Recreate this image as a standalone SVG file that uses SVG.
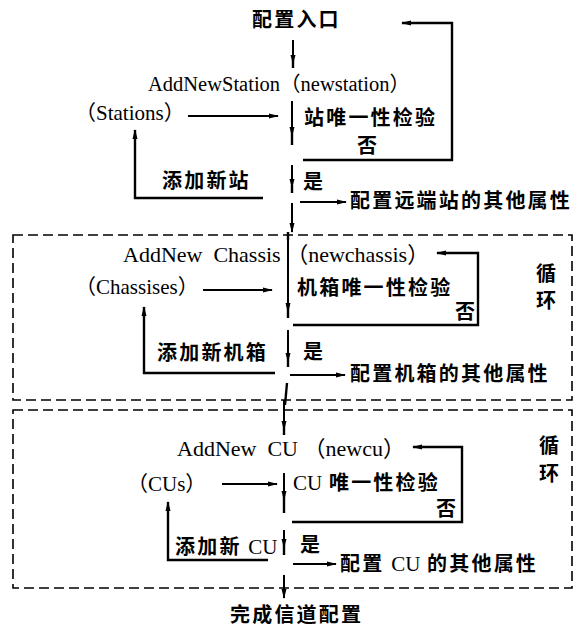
<svg xmlns="http://www.w3.org/2000/svg" width="586" height="632" viewBox="0 0 586 632">
<style>
.cn{font-family:"Noto Sans CJK SC","Noto Sans CJK TC",sans-serif;font-size:20px;font-weight:bold;letter-spacing:2.2px;fill:#000}
.en{font-family:"Liberation Serif","Noto Sans CJK SC",serif;font-size:21px;font-weight:normal;letter-spacing:0;fill:#000}
.ln{fill:none;stroke:#000;stroke-width:2.4}
.ar{fill:none;stroke:#000;stroke-width:2;marker-end:url(#ah)}
.dash{fill:none;stroke:#000;stroke-width:1.6;stroke-dasharray:10 5}
</style>
<defs>
<marker id="ah" markerUnits="userSpaceOnUse" markerWidth="10" markerHeight="6" refX="9" refY="3" orient="auto">
<path d="M0,0.5 L10,3 L0,5.5 z" fill="#000"/>
</marker>
</defs>
<rect width="586" height="632" fill="#fff"/>

<g id="loop-box-chassis"><rect class="dash" x="13" y="235" width="559" height="165"/></g>
<g id="loop-box-cu"><rect class="dash" x="13" y="410" width="559" height="178"/></g>

<g id="connectors">
<!-- top section -->
<line class="ar" x1="293" y1="40" x2="293" y2="64"/>
<line class="ln" x1="293" y1="60" x2="293" y2="68"/>
<line class="ar" x1="188" y1="116" x2="278" y2="116"/>
<line class="ar" x1="292" y1="101" x2="292" y2="136"/>
<line class="ln" x1="292" y1="130" x2="292" y2="145"/>
<line class="ar" x1="292" y1="165" x2="292" y2="188"/>
<line class="ln" x1="292" y1="185" x2="292" y2="193"/>
<line class="ar" x1="292" y1="203" x2="292" y2="232"/>
<polyline class="ln" points="303,160 452,160 452,23 402,23" style="marker-end:url(#ah)"/>
<polyline class="ln" points="263,198 135,198 135,130" style="marker-end:url(#ah)"/>
<line class="ar" x1="300" y1="202" x2="346" y2="202"/>
<!-- chassis section -->
<line class="ln" x1="288" y1="232" x2="288" y2="240"/>
<line class="ar" x1="288" y1="236" x2="288" y2="312"/>
<line class="ln" x1="288" y1="305" x2="288" y2="318"/>
<line class="ar" x1="288" y1="330" x2="288" y2="362"/>
<line class="ln" x1="288" y1="358" x2="288" y2="367"/>
<line class="ln" x1="287" y1="383" x2="285" y2="405"/>
<polyline class="ln" points="293,325 478,325 478,253 437,253" style="marker-end:url(#ah)"/>
<line class="ar" x1="203" y1="290" x2="272" y2="290"/>
<polyline class="ln" points="275,373 144,373 144,307" style="marker-end:url(#ah)"/>
<line class="ar" x1="290" y1="375" x2="345" y2="375"/>
<!-- cu section -->
<line class="ar" x1="284" y1="400" x2="284" y2="430"/>
<line class="ln" x1="284" y1="425" x2="284" y2="435"/>
<line class="ar" x1="284" y1="473" x2="284" y2="500"/>
<line class="ln" x1="284" y1="495" x2="284" y2="513"/>
<line class="ar" x1="284" y1="530" x2="284" y2="548"/>
<line class="ln" x1="284" y1="544" x2="284" y2="555"/>
<line class="ar" x1="284" y1="575" x2="284" y2="598"/>
<polyline class="ln" points="292,522 462,522 462,447 413,447" style="marker-end:url(#ah)"/>
<line class="ar" x1="222" y1="484" x2="277" y2="484"/>
<polyline class="ln" points="268,560 168,560 168,502" style="marker-end:url(#ah)"/>
<line class="ar" x1="293" y1="564" x2="336" y2="564"/>
</g>

<g id="entry"><text class="cn" x="252" y="27">配置入口</text></g>
<g id="add-station"><text class="en" x="148" y="91" style="font-size:20.5px">AddNewStation（newstation）</text></g>
<g id="stations"><text class="en" x="75" y="120">（Stations）</text></g>
<g id="station-check"><text class="cn" x="304" y="125">站唯一性检验</text><text class="cn" x="357" y="153">否</text></g>
<g id="add-new-station"><text class="cn" x="162" y="188">添加新站</text></g>
<g id="station-yes"><text class="cn" x="303" y="189">是</text></g>
<g id="station-config"><text class="cn" x="350" y="208">配置远端站的其他属性</text></g>

<g id="add-chassis"><text class="en" x="123" y="262" style="font-size:22px" xml:space="preserve">AddNew  Chassis （newchassis）</text></g>
<g id="loop-label-1"><text class="cn" x="536" y="281">循</text><text class="cn" x="536" y="308">环</text></g>
<g id="chassises"><text class="en" x="75" y="294">（Chassises）</text></g>
<g id="chassis-check"><text class="cn" x="297" y="295">机箱唯一性检验</text><text class="cn" x="455" y="319">否</text></g>
<g id="add-new-chassis"><text class="cn" x="157" y="360">添加新机箱</text></g>
<g id="chassis-yes"><text class="cn" x="303" y="359">是</text></g>
<g id="chassis-config"><text class="cn" x="350" y="381">配置机箱的其他属性</text></g>

<g id="add-cu"><text class="en" x="177" y="456" style="font-size:22px" xml:space="preserve">AddNew  CU （newcu）</text></g>
<g id="loop-label-2"><text class="cn" x="539" y="453">循</text><text class="cn" x="539" y="481">环</text></g>
<g id="cus"><text class="en" x="127" y="491">（CUs）</text></g>
<g id="cu-check"><text class="cn" x="293" y="490"><tspan class="en">CU</tspan> 唯一性检验</text><text class="cn" x="436" y="516">否</text></g>
<g id="add-new-cu"><text class="cn" x="175" y="554">添加新 <tspan class="en">CU</tspan></text></g>
<g id="cu-yes"><text class="cn" x="300" y="552">是</text></g>
<g id="cu-config"><text class="cn" x="340" y="571">配置 <tspan class="en">CU</tspan> 的其他属性</text></g>

<g id="finish"><text class="cn" x="230" y="622">完成信道配置</text></g>
</svg>
